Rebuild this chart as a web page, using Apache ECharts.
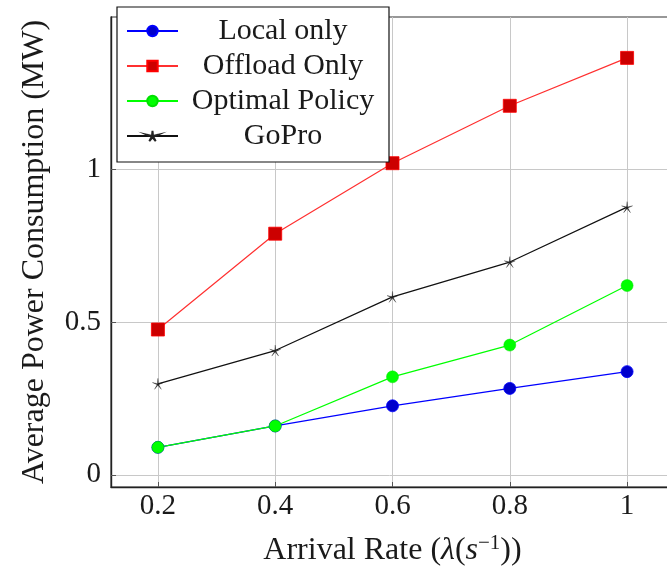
<!DOCTYPE html>
<html>
<head>
<meta charset="utf-8">
<script src="https://cdn.jsdelivr.net/npm/echarts@6/dist/echarts.min.js"></script>
<style>html,body{margin:0;padding:0;background:#fff;}#c{width:667px;height:569px;}</style>
</head>
<body>
<div id="c"></div>
<script>
var xValues = [0.2, 0.4, 0.6, 0.8, 1];
var localOnly = [0.09, 0.16, 0.226, 0.283, 0.338];
var offloadOnly = [0.476, 0.790, 1.021, 1.209, 1.366];
var optimalPolicy = [0.09, 0.16, 0.321, 0.425, 0.620];
var goPro = [0.298, 0.407, 0.583, 0.697, 0.877];
var xTicks = [0.2, 0.4, 0.6, 0.8, 1];
var yTicks = [0, 0.5, 1];
var seriesNames = ['Local only', 'Offload Only', 'Optimal Policy', 'GoPro'];

function pairs(vals) { return xValues.map(function (x, i) { return [x, vals[i]]; }); }
var FONT = 'Liberation Serif';
var starPath = 'path://M100 0 L91.2 87.9 L4.9 69.1 L85.7 104.6 L41.2 180.9 L100 115 L158.8 180.9 L114.3 104.6 L195.1 69.1 L108.8 87.9 Z';

var chart = echarts.init(document.getElementById('c'), null, {renderer: 'canvas'});
chart.setOption({
  animation: false,
  backgroundColor: '#fff',
  grid: {
    left: 111, top: 17, width: 563, height: 470,
    outerBoundsMode: 'none', containLabel: false,
    show: true, borderColor: '#333', borderWidth: 1.2, backgroundColor: 'transparent'
  },
  legend: {
    orient: 'vertical', left: 117, top: 7,
    backgroundColor: '#fff', borderColor: '#111', borderWidth: 1.2, borderRadius: 0,
    padding: [9, 6, 11, 9],
    itemWidth: 51, itemHeight: 13, itemGap: 5,
    data: seriesNames,
    formatter: function (n) { return '{a|' + n + '}'; },
    textStyle: {
      fontFamily: FONT, fontSize: 30, color: '#1a1a1a', lineHeight: 30,
      rich: { a: { width: 200, align: 'center', fontFamily: FONT, fontSize: 30, lineHeight: 30, color: '#1a1a1a' } }
    }
  },
  xAxis: {
    type: 'value', min: 0.12, max: 1.08,
    name: 'Arrival Rate ({i|λ}({i|s}{sup|−1}))',
    nameLocation: 'middle', nameGap: 46,
    nameTextStyle: {
      fontFamily: FONT, fontSize: 32, color: '#1a1a1a',
      rich: {
        i: { fontFamily: FONT, fontStyle: 'italic', fontSize: 32, color: '#1a1a1a' },
        sup: { fontFamily: FONT, fontSize: 21, color: '#1a1a1a', verticalAlign: 'bottom', padding: [0, 0, 15, 0] }
      }
    },
    axisLine: { show: true, onZero: false, lineStyle: { color: '#222', width: 1.4 } },
    axisTick: { show: true, inside: true, length: 5, customValues: xTicks, lineStyle: { color: '#555' } },
    axisLabel: { customValues: xTicks, margin: 5, fontFamily: FONT, fontSize: 29, color: '#1a1a1a' },
    splitLine: { show: true, lineStyle: { color: '#c8c8c8', width: 1 } }
  },
  yAxis: {
    type: 'value', min: -0.04, max: 1.5,
    name: 'Average Power Consumption (MW)',
    nameLocation: 'middle', nameGap: 60,
    nameTextStyle: { fontFamily: FONT, fontSize: 32, color: '#1a1a1a' },
    axisLine: { show: true, onZero: false, lineStyle: { color: '#222', width: 1.4 } },
    axisTick: { show: true, inside: true, length: 5, customValues: yTicks, lineStyle: { color: '#555' } },
    axisLabel: { customValues: yTicks, margin: 10, fontFamily: FONT, fontSize: 29, color: '#1a1a1a' },
    splitLine: { show: true, lineStyle: { color: '#c8c8c8', width: 1 } }
  },
  series: [
    {
      name: seriesNames[0], type: 'line', data: pairs(localOnly),
      symbol: 'circle', symbolSize: 12,
      lineStyle: { color: '#0000ff', width: 1.2 },
      itemStyle: { color: '#0000cc', borderColor: '#0000ff', borderWidth: 0.8 }
    },
    {
      name: seriesNames[1], type: 'line', data: pairs(offloadOnly),
      symbol: 'rect', symbolSize: 13,
      lineStyle: { color: '#ff3030', width: 1.2 },
      itemStyle: { color: '#cc0000', borderColor: '#ff0000', borderWidth: 0.8 }
    },
    {
      name: seriesNames[2], type: 'line', data: pairs(optimalPolicy),
      symbol: 'circle', symbolSize: 12,
      lineStyle: { color: '#00ff00', width: 1.2 },
      itemStyle: { color: '#00ff00', borderColor: '#00e000', borderWidth: 0.5 }
    },
    {
      name: seriesNames[3], type: 'line', data: pairs(goPro),
      symbol: starPath, symbolSize: 11,
      lineStyle: { color: '#111', width: 1.2 },
      itemStyle: { color: '#222', borderColor: '#222', borderWidth: 0.3 }
    }
  ]
});
</script>
</body>
</html>
